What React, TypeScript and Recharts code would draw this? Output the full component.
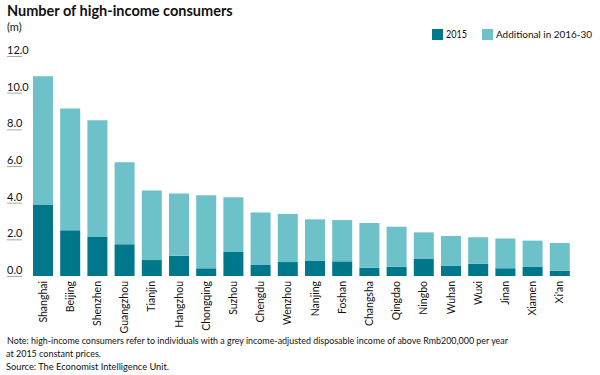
import React from 'react';
import { BarChart, Bar, XAxis, YAxis } from 'recharts';

const cities = [
  'Shanghai', 'Beijing', 'Shenzhen', 'Guangzhou', 'Tianjin', 'Hangzhou', 'Chongqing',
  'Suzhou', 'Chengdu', 'Wenzhou', 'Nanjing', 'Foshan', 'Changsha', 'Qingdao',
  'Ningbo', 'Wuhan', 'Wuxi', 'Jinan', 'Xiamen', "Xi'an",
];
const base2015 = [3.9, 2.5, 2.13, 1.73, 0.87, 1.1, 0.42, 1.31, 0.6, 0.76, 0.82, 0.8, 0.45, 0.51, 0.95, 0.55, 0.67, 0.42, 0.49, 0.29];
const additional = [7.0, 6.63, 6.37, 4.47, 3.8, 3.4, 3.98, 2.99, 2.87, 2.62, 2.27, 2.25, 2.44, 2.18, 1.43, 1.63, 1.44, 1.63, 1.44, 1.51];
const yTicks = [0, 2, 4, 6, 8, 10, 12];

const seriesNames = ['2015', 'Additional in 2016-30'];
const DARK = '#00778B';
const LIGHT = '#6CC2C8';
const FONT = 'Lato, "Open Sans", sans-serif';

const data = cities.map((c, i) => ({ city: c, base: base2015[i], add: additional[i] }));

const LeftTick = (props: any) => {
  const { y, payload } = props;
  return (
    <g>
      <text x={7} y={y - 2} fontSize={11} fill="#111" fontFamily={FONT}>
        {Number(payload.value).toFixed(1)}
      </text>
      <line x1={7} x2={22} y1={y + 0.5} y2={y + 0.5} stroke="#aaa" />
    </g>
  );
};

const RightTick = (props: any) => {
  const { y, payload } = props;
  return (
    <g>
      <text x={592} y={y - 2} fontSize={11} fill="#111" fontFamily={FONT} textAnchor="end">
        {Number(payload.value).toFixed(1)}
      </text>
      <line x1={577} x2={592} y1={y + 0.5} y2={y + 0.5} stroke="#aaa" />
    </g>
  );
};

const CityTick = (props: any) => {
  const { x, payload } = props;
  return (
    <text
      transform={`translate(${x + 4},281) rotate(-90)`}
      textAnchor="end"
      fontSize={10.5}
      fill="#111"
      fontFamily={FONT}
    >
      {payload.value}
    </text>
  );
};

export default function App() {
  return (
    <div style={{ position: 'absolute', left: 0, top: 0, width: 600, height: 375, background: '#fff', fontFamily: FONT }}>
      <div style={{ position: 'absolute', left: 0, top: 0 }}>
        <BarChart width={600} height={340} data={data} margin={{ top: 56, right: 0, left: 0, bottom: 0 }} barSize={20}>
          <XAxis dataKey="city" interval={0} axisLine={false} tickLine={false} height={64} tick={<CityTick />} />
          <YAxis yAxisId="l" domain={[0, 12]} ticks={yTicks} width={29} axisLine={false} tickLine={false} tick={<LeftTick />} />
          <YAxis yAxisId="r" orientation="right" domain={[0, 12]} ticks={yTicks} width={27} axisLine={false} tickLine={false} tick={<RightTick />} />
          <Bar yAxisId="l" dataKey="base" stackId="a" fill={DARK} isAnimationActive={false} name={seriesNames[0]} />
          <Bar yAxisId="l" dataKey="add" stackId="a" fill={LIGHT} isAnimationActive={false} name={seriesNames[1]} />
        </BarChart>
      </div>
      <svg width={600} height={375} style={{ position: 'absolute', left: 0, top: 0, pointerEvents: 'none' }} fontFamily={FONT}>
        <text x={7} y={16} fontSize={14.5} fontWeight="bold" fill="#111">Number of high-income consumers</text>
        <text x={7} y={31} fontSize={11} fill="#111">(m)</text>
        <rect x={432} y={29} width={11} height={11} fill={DARK} />
        <text x={446} y={38} fontSize={10.5} fill="#111" textLength={21} lengthAdjust="spacingAndGlyphs">{seriesNames[0]}</text>
        <rect x={482} y={29} width={11} height={11} fill={LIGHT} />
        <text x={496} y={38} fontSize={10} fill="#111" textLength={96} lengthAdjust="spacingAndGlyphs">{seriesNames[1]}</text>
        <text x={7} y={344} fontSize={10} fill="#111" textLength={501} lengthAdjust="spacingAndGlyphs">Note: high-income consumers refer to individuals with a grey income-adjusted disposable income of above Rmb200,000 per year</text>
        <text x={6} y={357} fontSize={10} fill="#111" textLength={95} lengthAdjust="spacingAndGlyphs">at 2015 constant prices.</text>
        <text x={6} y={370} fontSize={10} fill="#111" textLength={163} lengthAdjust="spacingAndGlyphs">Source: The Economist Intelligence Unit.</text>
      </svg>
    </div>
  );
}
